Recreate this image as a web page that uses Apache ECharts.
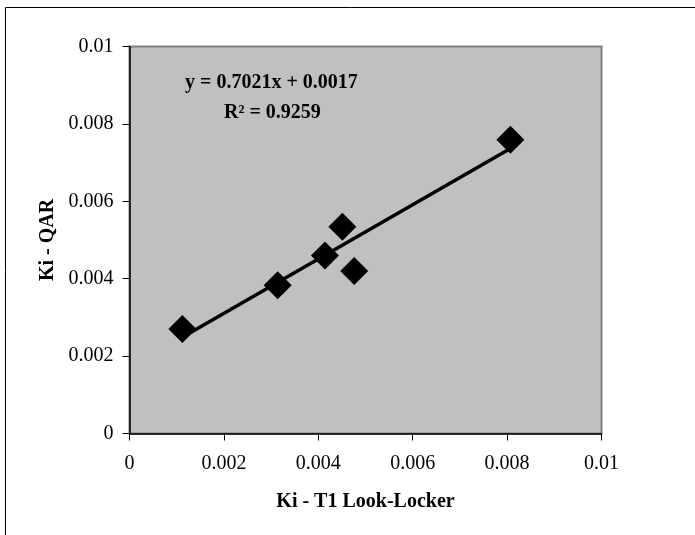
<!DOCTYPE html>
<html>
<head>
<meta charset="utf-8">
<script src="https://cdn.jsdelivr.net/npm/echarts@6/dist/echarts.min.js"></script>
<style>
html, body { margin: 0; padding: 0; background: #fff; }
#main { width: 695px; height: 535px; }
</style>
</head>
<body>
<div id="main"></div>
<script>
// 数据：读图估计
var kiLookLocker = [0.00112, 0.00314, 0.00414, 0.00451, 0.00476, 0.00807];
var kiQAR = [0.00270, 0.00383, 0.00460, 0.00534, 0.00420, 0.00759];
var slope = 0.7021;
var intercept = 0.0017;
var eqText = 'y = 0.7021x + 0.0017';
var r2Text = 'R\u00b2 = 0.9259';
var xName = 'Ki - T1 Look-Locker';
var yName = 'Ki - QAR';

function loadMyChart() {
	var myChart = echarts.init(document.getElementById('main'));
	var points = [];
	for (var i = 0; i < kiLookLocker.length; i++) {
		points.push([kiLookLocker[i], kiQAR[i]]);
	}
	var xMin = Math.min.apply(null, kiLookLocker);
	var xMax = Math.max.apply(null, kiLookLocker);
	var trend = [
		[xMin, slope * xMin + intercept],
		[xMax, slope * xMax + intercept]
	];
	var font = 'Liberation Serif';
	var fmt = function (v) { return String(+v.toFixed(3)); };

	var option = {
		animation : false,
		grid : {
			left : 129.5,
			right : 93.5,
			top : 46.5,
			bottom : 101.5,
			show : true,
			backgroundColor : '#C0C0C0',
			borderColor : '#808080',
			borderWidth : 2
		},
		xAxis : {
			type : 'value',
			min : 0,
			max : 0.01,
			interval : 0.002,
			name : xName,
			nameLocation : 'middle',
			nameGap : 58,
			nameTextStyle : { fontFamily : font, fontSize : 20, fontWeight : 'bold', color : '#000' },
			axisLine : { show : true, lineStyle : { color : '#000', width : 1.5 } },
			axisTick : { show : true, inside : false, length : 7, lineStyle : { color : '#000' } },
			axisLabel : { fontFamily : font, fontSize : 20, color : '#000', margin : 20, formatter : fmt },
			splitLine : { show : false }
		},
		yAxis : {
			type : 'value',
			min : 0,
			max : 0.01,
			interval : 0.002,
			name : yName,
			nameLocation : 'middle',
			nameGap : 68,
			nameTextStyle : { fontFamily : font, fontSize : 20, fontWeight : 'bold', color : '#000' },
			axisLine : { show : true, lineStyle : { color : '#000', width : 1.5 } },
			axisTick : { show : true, inside : false, length : 7, lineStyle : { color : '#000' } },
			axisLabel : { fontFamily : font, fontSize : 20, color : '#000', margin : 16, formatter : fmt },
			splitLine : { show : false }
		},
		graphic : [
			{
				type : 'rect',
				silent : true,
				shape : { x : 5.5, y : 7.5, width : 900, height : 900 },
				style : { fill : 'none', stroke : '#000', lineWidth : 1 }
			},
			{
				type : 'text',
				left : 185,
				top : 73,
				style : { text : eqText, font : 'bold 20px "Liberation Serif"', fill : '#000' }
			},
			{
				type : 'text',
				left : 224,
				top : 103,
				style : { text : r2Text, font : 'bold 20px "Liberation Serif"', fill : '#000' }
			}
		],
		series : [
			{
				name : 'trend',
				type : 'line',
				data : trend,
				showSymbol : false,
				symbol : 'none',
				lineStyle : { color : '#000', width : 3.5 },
				z : 2
			},
			{
				name : 'Ki',
				type : 'scatter',
				data : points,
				symbol : 'diamond',
				symbolSize : 28,
				itemStyle : { color : '#000', opacity : 1 },
				z : 3
			}
		]
	};
	myChart.setOption(option);
}

loadMyChart();
</script>
</body>
</html>
